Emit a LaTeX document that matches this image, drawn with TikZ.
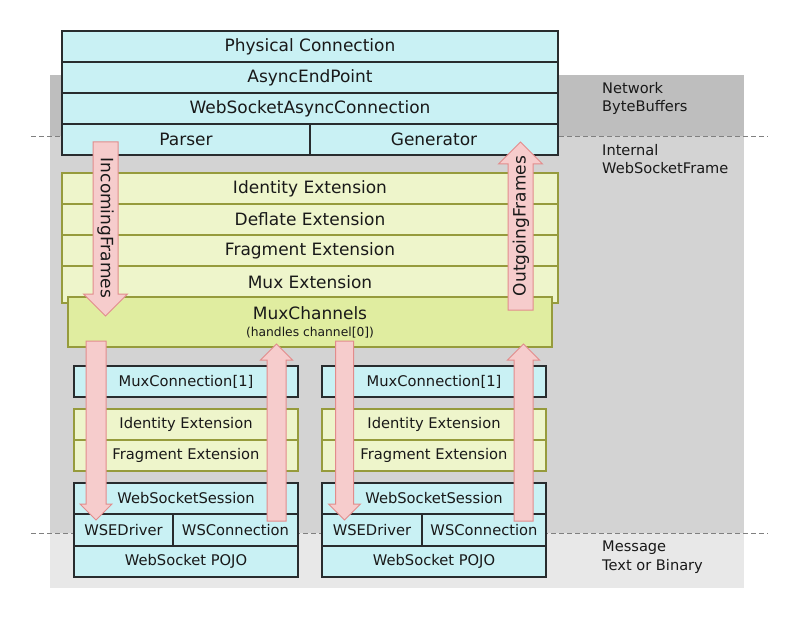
\documentclass[tikz,border=0pt]{standalone}
\usepackage{fontspec}
\setmainfont{DejaVu Sans}
\definecolor{conncyan}{RGB}{201,241,244}
\definecolor{boxline}{RGB}{40,44,46}
\definecolor{extgreen}{RGB}{238,245,203}
\definecolor{muxgreen}{RGB}{224,237,160}
\definecolor{extline}{RGB}{150,155,60}
\definecolor{arrowpink}{RGB}{246,204,204}
\definecolor{arrowline}{RGB}{226,140,140}
\definecolor{netgray}{RGB}{190,190,190}
\definecolor{intgray}{RGB}{211,211,211}
\definecolor{msggray}{RGB}{232,232,232}
\definecolor{dashgray}{RGB}{128,128,128}
\definecolor{textdark}{RGB}{25,25,25}
\tikzset{layer/.style = {draw=boxline, fill=conncyan, line width=1.3pt,
                         inner sep=0pt, outer sep=0pt, anchor=north west,
                         minimum height=31pt, text=textdark,
                         font=\fontsize{17}{20}\selectfont},
         extlayer/.style = {layer, draw=extline, fill=extgreen, line width=1.1pt},
         small/.style = {font=\fontsize{14.7}{17}\selectfont},
         flow/.style = {draw=arrowline, fill=arrowpink, line width=1pt,
                        line join=miter},
         flowtext/.style = {inner sep=0pt, text=textdark,
                            font=\fontsize{17}{20}\selectfont},
         sidenote/.style = {anchor=north west, align=left, inner sep=0pt,
                            text=textdark, font=\fontsize{14.6}{18.2}\selectfont}}
% block arrow: x, tail y, tip y, half shaft, half head
\newcommand{\flowarrow}[5]{%
  \pgfmathsetmacro{\headbase}{#3 + (#2 > #3 ? 1 : -1) * #5}
  \draw [flow] (#1-#4, #2) -- (#1-#4, \headbase) -- (#1-#5, \headbase)
    -- (#1, #3) -- (#1+#5, \headbase) -- (#1+#4, \headbase)
    -- (#1+#4, #2) -- cycle;}

\begin{document}
\begin{tikzpicture}[x=1pt, y=-1pt]
    \useasboundingbox (0, 0) rectangle (800, 620);
    % bands
    \fill [netgray] (50, 75) rectangle (744, 136);
    \fill [intgray] (50, 136) rectangle (744, 533);
    \fill [msggray] (50, 533) rectangle (744, 588);
    \draw [dashgray, dash pattern=on 5pt off 3pt] (31, 136) -- (768, 136);
    \draw [dashgray, dash pattern=on 5pt off 3pt] (31, 533) -- (768, 533);
    \node [sidenote] (network) at (602, 82) {Network\\ByteBuffers};
    \node [sidenote] (internal) at (602, 144) {Internal\\WebSocketFrame};
    \node [sidenote] (message) at (602, 541) {Message\\Text or Binary};

    % connection
    \node [layer, minimum width=496pt] (physical) at (62, 31) {Physical Connection};
    \node [layer, minimum width=496pt] (endpoint) at (62, 62) {AsyncEndPoint};
    \node [layer, minimum width=496pt] (asyncconn) at (62, 93) {WebSocketAsyncConnection};
    \node [layer, minimum width=248pt] (parser) at (62, 124) {Parser};
    \node [layer, minimum width=248pt] (generator) at (310, 124) {Generator};

    % extensions
    \node [extlayer, minimum width=496pt] (identity) at (62, 173) {Identity Extension};
    \node [extlayer, minimum width=496pt] (deflate) at (62, 204) {Deflate Extension};
    \node [extlayer, minimum width=496pt] (fragment) at (62, 235) {Fragment Extension};
    \node [extlayer, minimum width=496pt, minimum height=37pt,
           text height=12pt, text depth=5pt] (muxext) at (62, 266) {Mux Extension};
    \node [extlayer, fill=muxgreen, minimum width=484pt, minimum height=50pt,
           align=center] (muxchannels) at (68, 297)
          {MuxChannels\\[-3pt]{\fontsize{12.3}{14}\selectfont (handles channel[0])}};

    % channel 1
    \node [layer, small, minimum width=224pt] (muxconnA) at (74, 366) {MuxConnection[1]};
    \node [extlayer, small, minimum width=224pt] (identA) at (74, 409) {Identity Extension};
    \node [extlayer, small, minimum width=224pt] (fragA) at (74, 440) {Fragment Extension};
    \node [layer, small, minimum width=224pt] (sessionA) at (74, 483) {WebSocketSession};
    \node [layer, small, minimum width=99pt, minimum height=32pt] (driverA) at (74, 514) {WSEDriver};
    \node [layer, small, minimum width=125pt, minimum height=32pt] (wsconnA) at (173, 514) {WSConnection};
    \node [layer, small, minimum width=224pt] (pojoA) at (74, 546) {WebSocket POJO};

    % channel 2
    \node [layer, small, minimum width=224pt] (muxconnB) at (322, 366) {MuxConnection[1]};
    \node [extlayer, small, minimum width=224pt] (identB) at (322, 409) {Identity Extension};
    \node [extlayer, small, minimum width=224pt] (fragB) at (322, 440) {Fragment Extension};
    \node [layer, small, minimum width=224pt] (sessionB) at (322, 483) {WebSocketSession};
    \node [layer, small, minimum width=100pt, minimum height=32pt] (driverB) at (322, 514) {WSEDriver};
    \node [layer, small, minimum width=124pt, minimum height=32pt] (wsconnB) at (422, 514) {WSConnection};
    \node [layer, small, minimum width=224pt] (pojoB) at (322, 546) {WebSocket POJO};

    % frame flow
    \flowarrow{105.5}{142}{316}{12.5}{22}
    \flowarrow{520.5}{310}{142}{12.5}{22}
    \node [flowtext, rotate=-90] (incoming) at (105.5, 228) {IncomingFrames};
    \node [flowtext, rotate=90] (outgoing) at (521, 226) {OutgoingFrames};
    \flowarrow{96}{341}{520}{10}{16}
    \flowarrow{276.5}{521}{344}{9.5}{16}
    \flowarrow{344.5}{341}{520}{9}{16}
    \flowarrow{523.5}{521}{344}{9.5}{16}
\end{tikzpicture}
\end{document}
